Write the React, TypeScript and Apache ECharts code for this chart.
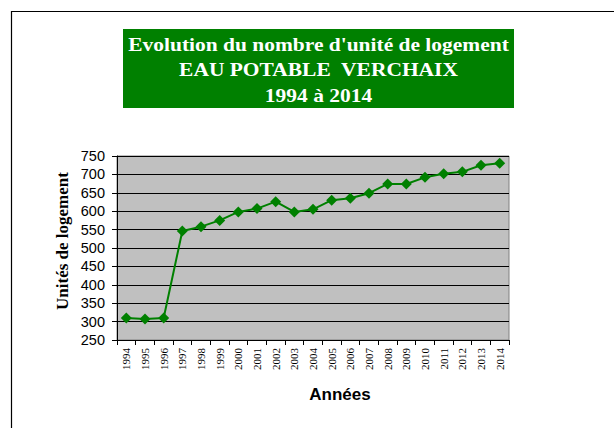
import React, { useEffect, useRef } from "react";
import * as echarts from "echarts";

const years = ["1994","1995","1996","1997","1998","1999","2000","2001","2002","2003","2004","2005","2006","2007","2008","2009","2010","2011","2012","2013","2014"];
const units = [310, 307, 310, 546, 558, 575, 598, 607, 626, 598, 605, 630, 635, 649, 674, 674, 692, 702, 707, 725, 730];
const titleLines = ["Evolution du nombre d'unité de logement", "EAU POTABLE  VERCHAIX", "1994 à 2014"];
const yTitle = "Unités de logement";
const xTitle = "Années";

export default function App() {
  const ref = useRef<HTMLDivElement>(null);
  useEffect(() => {
    if (!ref.current) return;
    const chart = echarts.init(ref.current, null, { renderer: "svg" });
    chart.setOption({
      animation: false,
      backgroundColor: "#ffffff",
      graphic: [
        { type: "line", shape: { x1: 11, y1: 11.5, x2: 614, y2: 11.5 }, style: { stroke: "#000", lineWidth: 1.2 } },
        { type: "line", shape: { x1: 11.5, y1: 11, x2: 11.5, y2: 428 }, style: { stroke: "#000", lineWidth: 1.2 } },
        { type: "rect", shape: { x: 123, y: 29, width: 391, height: 79 }, style: { fill: "#008000" } },
        ...titleLines.map((t, i) => ({
          type: "text",
          x: 318.5,
          y: 44.5 + i * 25.3,
          scaleX: 1.13,
          style: {
            text: t,
            fill: "#ffffff",
            font: "bold 19px 'Liberation Serif', 'Times New Roman', serif",
            align: "center",
            verticalAlign: "middle",
          },
        })),
        {
          type: "text",
          x: 62,
          y: 241,
          rotation: Math.PI / 2,
          style: {
            text: yTitle,
            fill: "#000",
            font: "bold 17px 'Liberation Serif', 'Times New Roman', serif",
            align: "center",
            verticalAlign: "middle",
          },
        },
        {
          type: "text",
          x: 340,
          y: 394,
          style: {
            text: xTitle,
            fill: "#000",
            font: "bold 17px 'Liberation Sans', Arial, sans-serif",
            align: "center",
            verticalAlign: "middle",
          },
        },
      ],
      grid: {
        left: 117,
        top: 156,
        width: 392,
        height: 184,
        show: true,
        backgroundColor: "#c0c0c0",
        borderColor: "#808080",
        borderWidth: 1,
      },
      xAxis: {
        type: "category",
        data: years,
        boundaryGap: true,
        axisLine: { lineStyle: { color: "#000", width: 1 } },
        axisTick: { show: true, length: 5, lineStyle: { color: "#000" } },
        axisLabel: {
          rotate: 90,
          fontFamily: "'Liberation Serif', 'Times New Roman', serif",
          fontSize: 11,
          color: "#000",
          margin: 8,
          interval: 0,
        },
        splitLine: { show: false },
      },
      yAxis: {
        type: "value",
        min: 250,
        max: 750,
        interval: 50,
        axisLine: { show: true, lineStyle: { color: "#000", width: 1 } },
        axisTick: { show: true, length: 5, lineStyle: { color: "#000" } },
        axisLabel: {
          fontFamily: "'Liberation Sans', Arial, sans-serif",
          fontSize: 14.5,
          color: "#000",
          margin: 12,
        },
        splitLine: { show: true, lineStyle: { color: "#000", width: 1 } },
      },
      series: [
        {
          type: "line",
          data: units,
          symbol: "diamond",
          symbolSize: 11,
          lineStyle: { color: "#008000", width: 2 },
          itemStyle: { color: "#008000" },
        },
      ],
    });
    return () => chart.dispose();
  }, []);
  return <div ref={ref} style={{ position: "fixed", left: 0, top: 0, width: 614, height: 428 }} />;
}
